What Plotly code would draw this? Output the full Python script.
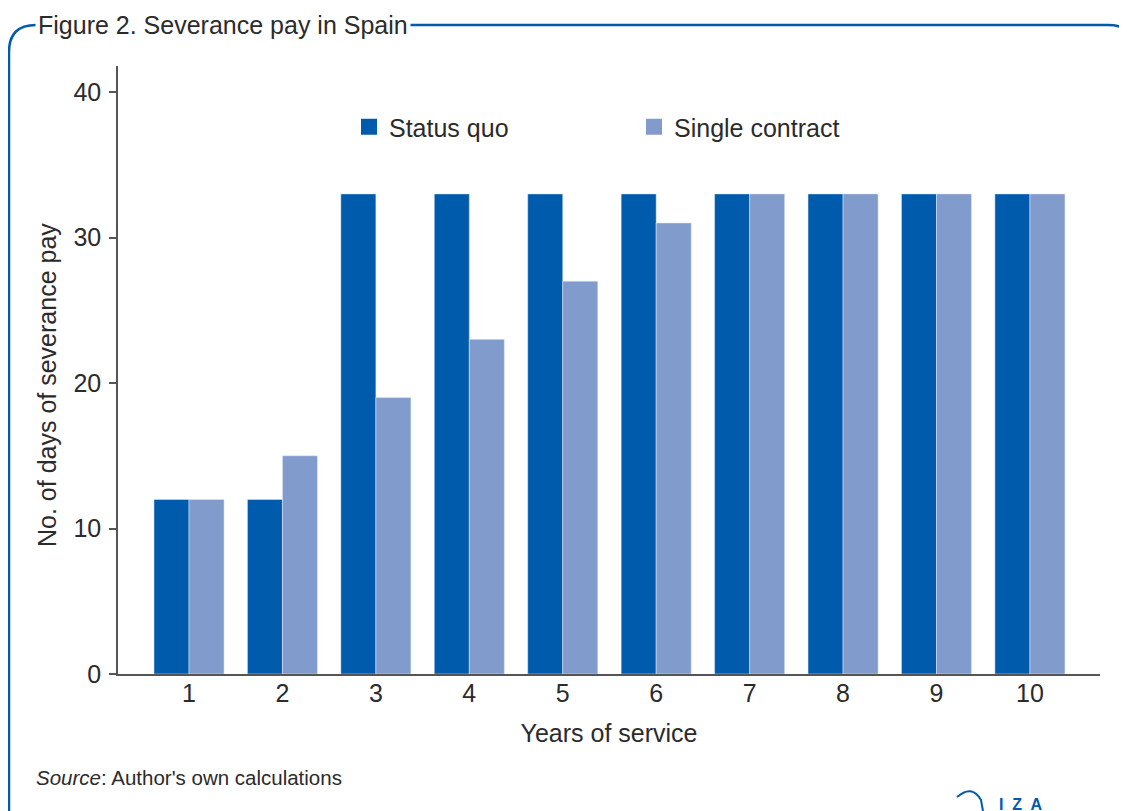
import plotly.graph_objects as go

years = [1, 2, 3, 4, 5, 6, 7, 8, 9, 10]
status_quo = [12, 12, 33, 33, 33, 33, 33, 33, 33, 33]
single_contract = [12, 15, 19, 23, 27, 31, 33, 33, 33, 33]

W, H = 1127, 811
OFF = 8  # page body margin
BLUE = "#005BAC"
LIGHT = "#819BCD"
TEXT = "#2B2B2B"
AXIS = "#555555"
FONT = "Liberation Sans"


def px(x, y):
    # screen pixel -> paper coords (margins are zero)
    return (x - OFF) / W, 1 - (y - OFF) / H


def path(points):
    out = []
    for cmd, pts in points:
        s = cmd
        for (x, y) in pts:
            a, b = px(x, y)
            s += f" {a:.5f},{b:.5f}"
        out.append(s)
    return " ".join(out)


fig = go.Figure()
fig.add_trace(go.Bar(x=years, y=status_quo, name="Status quo", marker_color=BLUE, showlegend=False))
fig.add_trace(go.Bar(x=years, y=single_contract, name="Single contract", marker_color=LIGHT, showlegend=False))
# legend entries with larger square swatches
for name, col in [("Status quo", BLUE), ("Single contract", LIGHT)]:
    fig.add_trace(go.Scatter(x=[None], y=[None], mode="markers", name=name,
                             marker=dict(symbol="square", size=16, color=col)))

frame = path([
    ("M", [(9, 830)]),
    ("L", [(9, 52)]),
    ("Q", [(9, 25), (36, 25)]),
    ("L", [(1108, 25)]),
    ("Q", [(1128, 25), (1134, 40)]),
])
iza = path([
    ("M", [(957, 797)]),
    ("Q", [(972, 784), (981, 800)]),
    ("L", [(983, 811)]),
])

x0, x1 = px(118, 0)[0], px(1100, 0)[0]
y0, y1 = px(0, 674)[1], px(0, 66)[1]
lx, ly = px(349, 104)

fig.update_layout(
    width=W, height=H,
    margin=dict(l=0, r=0, t=0, b=0, autoexpand=False),
    paper_bgcolor="white", plot_bgcolor="white",
    font=dict(family=FONT, color=TEXT, size=25),
    barmode="group", bargap=0.25, bargroupgap=0,
    showlegend=True,
    legend=dict(
        orientation="h", x=lx, y=ly, xanchor="left", yanchor="top",
        font=dict(size=25, color=TEXT), entrywidth=240, entrywidthmode="pixels",
        itemsizing="trace", bgcolor="rgba(0,0,0,0)",
    ),
    xaxis=dict(
        domain=[x0, x1], range=[0.24, 10.75],
        tickmode="array", tickvals=years, ticks="", showgrid=False,
        showline=True, linecolor=AXIS, linewidth=1.5, ticklabelstandoff=-4,
        tickfont=dict(size=25, color=TEXT),
        title=dict(text="Years of service", font=dict(size=25, color=TEXT), standoff=19),
        zeroline=False,
    ),
    yaxis=dict(
        domain=[y0, y1], range=[0, 41.79],
        tickvals=[0, 10, 20, 30, 40], ticks="outside", ticklen=7, tickwidth=1.5,
        tickcolor=AXIS, showgrid=False, zeroline=False, ticklabelstandoff=3,
        showline=True, linecolor=AXIS, linewidth=1.5,
        tickfont=dict(size=25, color=TEXT),
    ),
    shapes=[
        dict(type="path", path=frame, xref="paper", yref="paper",
             line=dict(color=BLUE, width=2.5)),
        dict(type="path", path=iza, xref="paper", yref="paper",
             line=dict(color=BLUE, width=2)),
    ],
    annotations=[
        dict(text="Figure 2. Severance pay in Spain", x=px(35, 0)[0], y=px(0, 25)[1],
             xref="paper", yref="paper", xanchor="left", yanchor="middle",
             showarrow=False, bgcolor="white", borderpad=2,
             font=dict(size=25, color=TEXT)),
        dict(text="No. of days of severance pay", x=px(47, 0)[0], y=px(0, 385)[1],
             xref="paper", yref="paper", xanchor="center", yanchor="middle",
             textangle=-90, showarrow=False, font=dict(size=25, color=TEXT)),
        dict(text="<i>Source</i>: Author's own calculations", x=px(34, 0)[0], y=px(0, 777)[1],
             xref="paper", yref="paper", xanchor="left", yanchor="middle",
             showarrow=False, font=dict(size=20.5, color=TEXT)),
        dict(text="<b>I  Z  A</b>", x=px(1020, 0)[0], y=px(0, 804)[1],
             xref="paper", yref="paper", xanchor="center", yanchor="middle",
             showarrow=False, font=dict(size=16, color=BLUE)),
    ],
)

fig.write_html("out.html")
